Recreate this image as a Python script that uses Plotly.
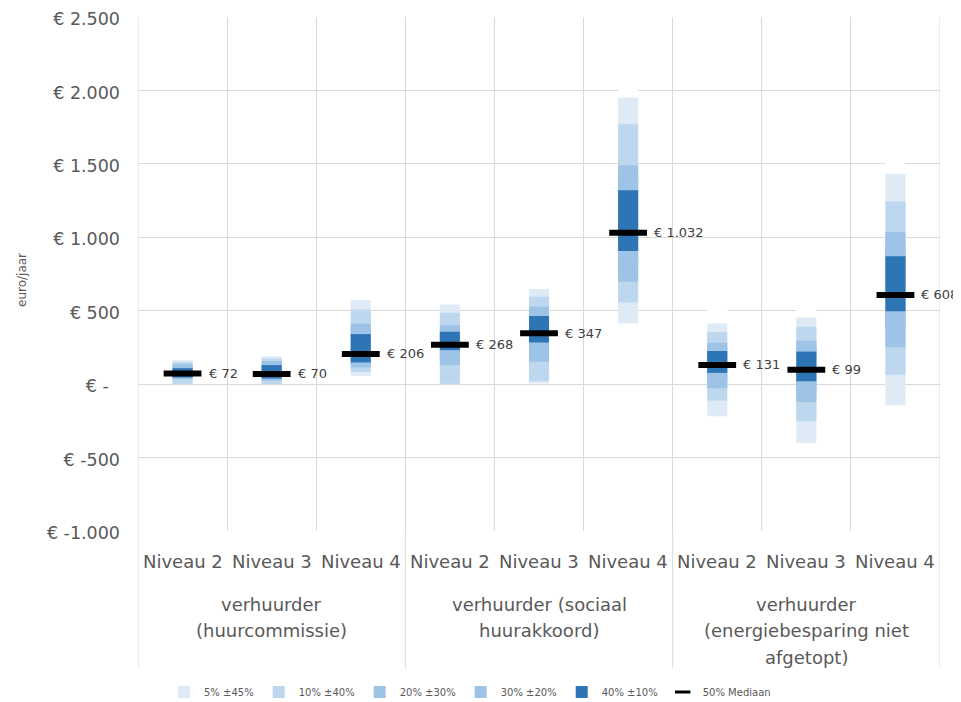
import plotly.graph_objects as go

# ---------------- data ----------------
levels = ["Niveau 2", "Niveau 3", "Niveau 4",
          "Niveau 2", "Niveau 3", "Niveau 4",
          "Niveau 2", "Niveau 3", "Niveau 4"]
groups = [
    ["verhuurder", "(huurcommissie)"],
    ["verhuurder (sociaal", "huurakkoord)"],
    ["verhuurder", "(energiebesparing niet", "afgetopt)"],
]
group_size = 3

p5  = [0,   0,   55,  0,   5,   414,  -219, -400, -144]
p10 = [0,   0,   84,  3,   20,  556,  -111, -253, 65]
p20 = [36,  25,  114, 130, 152, 698,  -27,  -122, 251]
p30 = [40,  32,  130, 180, 220, 800,  25,   -50,  380]
p40 = [46,  38,  148, 232, 284, 908,  77,   20,   496]
median = [72, 70, 206, 268, 347, 1032, 131, 99, 608]
p60 = [109, 130, 341, 357, 464, 1321, 226, 222, 872]
p70 = [123, 145, 380, 380, 500, 1400, 255, 260, 950]
p80 = [136, 158, 411, 402, 527, 1492, 283, 296, 1036]
p90 = [150, 175, 509, 486, 595, 1770, 353, 391, 1244]
p95 = [163, 190, 573, 543, 648, 1952, 414, 455, 1432]

band_names = ["5% ±45%", "10% ±40%", "20% ±30%", "30% ±20%", "40% ±10%"]
median_name = "50% Mediaan"

y_tickvals = [-1000, -500, 0, 500, 1000, 1500, 2000, 2500]
y_ticktext = ["€ -1.000", "€ -500", "€ -\u00a0\u00a0", "€ 500", "€ 1.000",
              "€ 1.500", "€ 2.000", "€ 2.500"]
y_title = "euro/jaar"

# ---------------- styling ----------------
band_colors = ["#DEEBF7", "#BDD7EE", "#9DC3E6", "#9DC3E6", "#2E75B6"]
grid = "#D9D9D9"
txt = "#595959"
font_family = "DejaVu Sans"
bar_w = 0.225
cap = 100  # white cap above each column (hides gridline, as in source)

# page has an 8px body margin; figure is sized to fit the 961x702 window
W, H = 953, 694
OFF = 8

x = list(range(len(levels)))


def fmt(v):
    return "€ " + f"{v:,}".replace(",", ".")


fig = go.Figure()

# white caps above the columns
fig.add_trace(go.Bar(x=x, y=[cap] * len(x), base=p95, width=bar_w,
                     marker=dict(color="white", line=dict(width=0)),
                     showlegend=False, hoverinfo="skip"))

lows = [p5, p10, p20, p30, p40]
highs = [p95, p90, p80, p70, p60]
for name, lo, hi, col in zip(band_names, lows, highs, band_colors):
    fig.add_trace(go.Bar(
        x=x, y=[h - l for h, l in zip(hi, lo)], base=lo, width=bar_w,
        name=name, marker=dict(color=col, line=dict(width=0)),
    ))

# median markers
fig.add_trace(go.Scatter(
    x=x, y=median, mode="markers", showlegend=False,
    marker=dict(symbol="line-ew", size=27, color="black",
                line=dict(color="black", width=6)),
))
# legend entry for the median
fig.add_trace(go.Scatter(
    x=[None], y=[None], mode="markers", name=median_name,
    marker=dict(symbol="line-ew", size=11, color="black",
                line=dict(color="black", width=3)),
))

# value labels
for xi, m in zip(x, median):
    fig.add_annotation(x=xi, y=m, text=fmt(m), showarrow=False,
                       xanchor="left", yanchor="middle", xshift=24,
                       font=dict(size=13, color="#404040", family=font_family))

# pixel helpers (plot area 17..531 px vertically in page coords)
top_px, bot_px = 17, 531
ph = bot_px - top_px


def ypap(px):
    return (bot_px - px) / ph


# category labels
for xi, lab in zip(x, levels):
    fig.add_annotation(x=xi, y=ypap(561), yref="paper", text=lab,
                       showarrow=False, yanchor="middle",
                       font=dict(size=18, color=txt, family=font_family))

line_px = [604, 630, 657]
for gi, lines in enumerate(groups):
    xc = sum(x[gi * group_size:(gi + 1) * group_size]) / group_size
    for li, t in enumerate(lines):
        fig.add_annotation(x=xc, y=ypap(line_px[li]), yref="paper", text=t,
                           showarrow=False, yanchor="middle",
                           font=dict(size=18, color=txt, family=font_family))

# axis title
fig.add_annotation(x=(22 - 138) / 802, xref="paper", y=ypap(280), yref="paper",
                   text=y_title, textangle=-90, showarrow=False,
                   xanchor="center", yanchor="middle",
                   font=dict(size=12, color=txt, family=font_family))

# dividers / borders
ybot = ypap(668)
for b in [x[0] - 0.5, x[-1] + 0.5]:
    fig.add_shape(type="line", x0=b, x1=b, xref="x", y0=ybot, y1=1,
                  yref="paper", line=dict(color=grid, width=1))
for gi in range(1, len(groups)):
    b = gi * group_size - 0.5
    fig.add_shape(type="line", x0=b, x1=b, xref="x", y0=ybot, y1=0,
                  yref="paper", line=dict(color=grid, width=1))

fig.update_layout(
    width=W, height=H,
    margin=dict(l=138 - OFF, r=21, t=17 - OFF, b=H - (531 - OFF), autoexpand=False),
    barmode="overlay",
    plot_bgcolor="white", paper_bgcolor="white",
    font=dict(family=font_family, color=txt),
    legend=dict(orientation="h", x=(470 - 138) / 802, xanchor="center",
                yref="container", y=(H - (692 - OFF)) / H, yanchor="middle",
                font=dict(size=10, color=txt),
                itemwidth=30, traceorder="normal"),
    xaxis=dict(range=[x[0] - 0.5, x[-1] + 0.5], showticklabels=False,
               showgrid=False, zeroline=False, ticks="", automargin=False,
               minor=dict(tickvals=[i + 0.5 for i in x[:-1]], showgrid=True,
                          gridcolor=grid, gridwidth=1, ticks="")),
    yaxis=dict(range=[-1000, 2501], tickvals=y_tickvals, ticktext=y_ticktext,
               gridcolor=grid, gridwidth=1, zeroline=False, showline=False,
               ticks="", ticklabelstandoff=17, automargin=False,
               ticklabeloverflow="allow", ticklabelshift=2,
               tickfont=dict(size=17.5, color=txt, family=font_family)),
)

fig.write_html("out.html")
